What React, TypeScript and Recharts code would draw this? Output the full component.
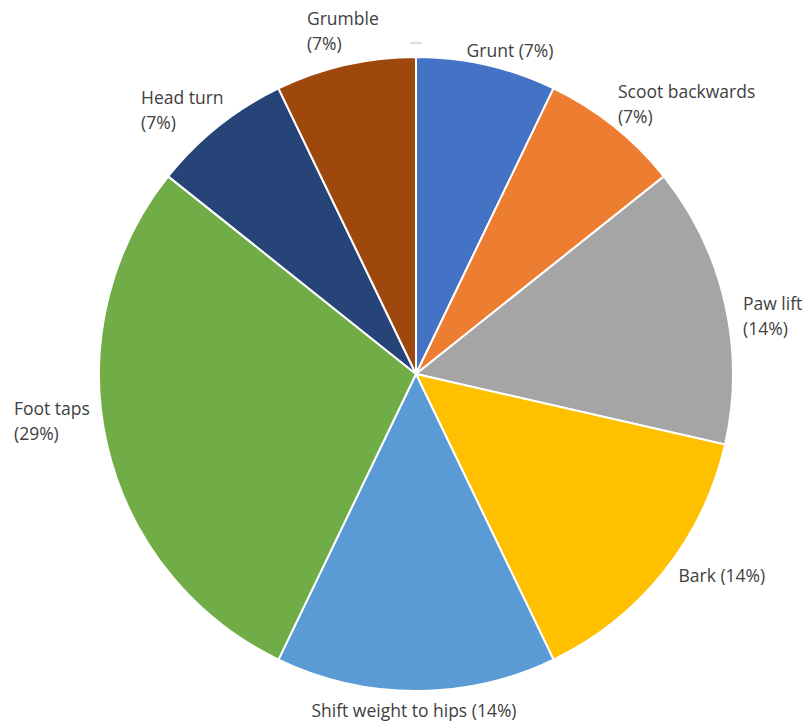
import React from "react";
import { PieChart, Pie, Cell } from "recharts";

const categories = [
  "Grunt",
  "Scoot backwards",
  "Paw lift",
  "Bark",
  "Shift weight to hips",
  "Foot taps",
  "Head turn",
  "Grumble",
];
const counts = [1, 1, 2, 2, 2, 4, 1, 1];
const colors = [
  "#4472C4",
  "#ED7D31",
  "#A5A5A5",
  "#FFC000",
  "#5B9BD5",
  "#70AD47",
  "#264478",
  "#9E480E",
];

const data = categories.map((name, i) => ({ name, value: counts[i] }));

// label placement tweaks (style only): offset from anchor point and whether to wrap
// wrapped labels are left-aligned (dx points to left edge); single-line labels are centred
const LABEL_STYLE: Record<string, { dx: number; dy: number; wrap: boolean }> = {
  Grunt: { dx: 21.5, dy: -6, wrap: false },
  "Scoot backwards": { dx: -1.3, dy: -16, wrap: true },
  "Paw lift": { dx: 9.2, dy: 14.5, wrap: true },
  Bark: { dx: 51, dy: -2, wrap: false },
  "Shift weight to hips": { dx: -2, dy: 10, wrap: false },
  "Foot taps": { dx: -84.2, dy: -26.5, wrap: true },
  "Head turn": { dx: -71.7, dy: -10, wrap: true },
  Grumble: { dx: -36.5, dy: -26, wrap: true },
};

const RAD = Math.PI / 180;

const renderLabel = (props: any) => {
  const { cx, cy, midAngle, outerRadius, name, percent, index } = props;
  const r = outerRadius + 9;
  const px = cx + r * Math.cos(-midAngle * RAD);
  const py = cy + r * Math.sin(-midAngle * RAD);
  const st = LABEL_STYLE[name] || { dx: 0, dy: 0, wrap: false };
  const x = px + st.dx;
  const y = py + st.dy;
  const pct = `(${Math.round(percent * 100)}%)`;
  const common = {
    fill: "#404040",
    fontSize: 17.5,
    fontFamily: "'Open Sans', 'Noto Sans', sans-serif",
    dominantBaseline: "central" as const,
  };
  return (
    <g key={`lbl-${index}`}>
      {index === 0 && (
        <line
          x1={cx - 6}
          x2={cx + 6}
          y1={cy - outerRadius - 14}
          y2={cy - outerRadius - 14}
          stroke="#BFBFBF"
          strokeWidth={1}
        />
      )}
      {st.wrap ? (
        <text x={x} y={y} textAnchor="start" {...common}>
          <tspan x={x} y={y - 12.5}>{name}</tspan>
          <tspan x={x} y={y + 12.5}>{pct}</tspan>
        </text>
      ) : (
        <text x={x} y={y} textAnchor="middle" {...common}>
          {`${name} ${pct}`}
        </text>
      )}
    </g>
  );
};

export default function App() {
  return (
    <div style={{ position: "absolute", left: 0, top: 0, width: 809, height: 723, background: "#fff" }}>
      <PieChart width={809} height={723} margin={{ top: 0, right: 0, bottom: 0, left: 0 }}>
        <Pie
          data={data}
          dataKey="value"
          nameKey="name"
          cx={416}
          cy={374}
          outerRadius={317}
          startAngle={90}
          endAngle={-270}
          stroke="#FFFFFF"
          strokeWidth={2}
          label={renderLabel}
          labelLine={false}
          isAnimationActive={false}
        >
          {data.map((d, i) => (
            <Cell key={d.name} fill={colors[i]} />
          ))}
        </Pie>
      </PieChart>
    </div>
  );
}
